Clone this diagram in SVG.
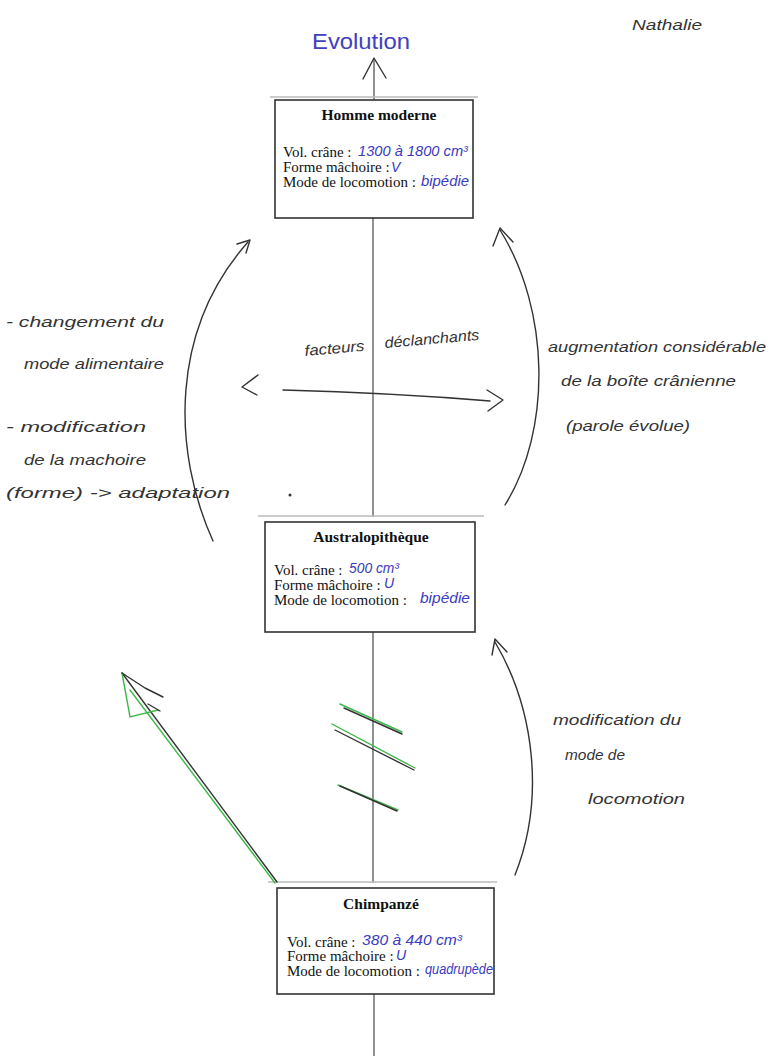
<svg xmlns="http://www.w3.org/2000/svg" width="769" height="1060" viewBox="0 0 769 1060">
<defs>
<style>
.box{fill:#fff;stroke:#333;stroke-width:1.6}
.scan{stroke:#bbb;stroke-width:1.5;fill:none}
.title{font-family:"Liberation Serif",serif;font-weight:bold;font-size:15.5px;fill:#111;text-anchor:middle}
.lbl{font-family:"Liberation Serif",serif;font-size:15px;fill:#111}
.val{font-family:"Liberation Sans",sans-serif;font-style:italic;font-size:14px;fill:#3a3ac0}
.hw{font-family:"Liberation Sans",sans-serif;font-style:italic;font-size:15px;fill:#333}
.ink{stroke:#333;stroke-width:1.4;fill:none;stroke-linecap:round;stroke-linejoin:round}
.axis{stroke:#555;stroke-width:1.3;fill:none}
.green{stroke:#3cb84a;stroke-width:1.4;fill:none;stroke-linecap:round}
</style>
</defs>
<rect width="769" height="1060" fill="#fff"/>

<g id="title-evolution">
<text x="312" y="49" font-family="Liberation Sans, sans-serif" font-size="22" fill="#4040c0" textLength="98" lengthAdjust="spacingAndGlyphs">Evolution</text>
</g>
<g id="author">
<text x="632" y="30" class="hw" font-size="14" textLength="70" lengthAdjust="spacingAndGlyphs">Nathalie</text>
</g>

<g id="connectors">
<line class="axis" x1="374" y1="60" x2="374" y2="100"/>
<line class="axis" x1="373" y1="218" x2="373" y2="517"/>
<line class="axis" x1="373" y1="632" x2="373" y2="883"/>
<line class="axis" x1="374" y1="994" x2="374" y2="1056"/>
<path class="ink" stroke-width="2" d="M363 79 L374 58 L386 78"/>
<line class="scan" x1="270" y1="97" x2="478" y2="97"/>
<line class="scan" x1="258" y1="516" x2="484" y2="516"/>
<line class="scan" x1="268" y1="882" x2="497" y2="882"/>
<path class="ink" d="M213 541 C172 450 170 330 248 242"/>
<path class="ink" d="M237 244 L250 240 L246 253"/>
<path class="ink" d="M505 505 C552 430 550 310 500 230"/>
<path class="ink" d="M493 246 L500 228 L513 242"/>
<path class="ink" d="M283 390 C360 392 430 396 490 401"/>
<path class="ink" d="M258 375 L242 387 L257 395"/>
<path class="ink" d="M487 390 L503 400 L488 411"/>
<path class="ink" d="M515 875 C545 800 535 710 495 642"/>
<path class="ink" d="M492 655 L495 639 L507 652"/>
<path class="green" d="M275 883 L130 690"/>
<path class="ink" d="M277 882 L122 673"/>
<path class="green" d="M122 673 L130 717 L158 710"/>
<path class="ink" d="M122 673 L145 688 L163 697"/>
<path class="ink" d="M148 704 L160 711"/>
<path class="green" d="M340 704 L402 732"/>
<path class="ink" d="M344 708 L402 734"/>
<path class="green" d="M332 724 L415 768"/>
<path class="ink" d="M335 730 L414 770"/>
<path class="green" d="M338 785 L398 810"/>
<path class="ink" d="M340 786 L397 811"/>
<circle cx="290" cy="495" r="1.5" fill="#333"/>
</g>

<g id="homme-moderne">
<rect class="box" x="275" y="100" width="198" height="118"/>
<text class="title" x="379" y="120">Homme moderne</text>
<text class="lbl" x="283" y="157">Vol. crâne :</text>
<text class="val" x="358" y="156" textLength="110" lengthAdjust="spacingAndGlyphs">1300 à 1800 cm³</text>
<text class="lbl" x="283" y="172">Forme mâchoire :</text>
<text class="val" x="391" y="172" font-size="15">V</text>
<text class="lbl" x="283" y="187">Mode de locomotion :</text>
<text class="val" x="421" y="186" textLength="48" lengthAdjust="spacingAndGlyphs">bipédie</text>
</g>

<g id="australopitheque">
<rect class="box" x="265" y="522" width="210" height="110"/>
<text class="title" x="371" y="542">Australopithèque</text>
<text class="lbl" x="274" y="575">Vol. crâne :</text>
<text class="val" x="349" y="573" textLength="50" lengthAdjust="spacingAndGlyphs">500 cm³</text>
<text class="lbl" x="274" y="590">Forme mâchoire :</text>
<text class="val" x="384" y="588" font-size="16">U</text>
<text class="lbl" x="274" y="605">Mode de locomotion :</text>
<text class="val" x="420" y="603" textLength="50" lengthAdjust="spacingAndGlyphs">bipédie</text>
</g>

<g id="chimpanze">
<rect class="box" x="277" y="888" width="217" height="106"/>
<text class="title" x="381" y="909">Chimpanzé</text>
<text class="lbl" x="287" y="947">Vol. crâne :</text>
<text class="val" x="362" y="945" textLength="100" lengthAdjust="spacingAndGlyphs">380 à 440 cm³</text>
<text class="lbl" x="287" y="961">Forme mâchoire :</text>
<text class="val" x="396" y="960" font-size="16">U</text>
<text class="lbl" x="287" y="976">Mode de locomotion :</text>
<text class="val" x="425" y="974" textLength="68" lengthAdjust="spacingAndGlyphs">quadrupède</text>
</g>

<g id="facteurs">
<text class="hw" x="305" y="356" font-size="17" transform="rotate(-5 305 356)" textLength="60" lengthAdjust="spacingAndGlyphs">facteurs</text>
<text class="hw" x="385" y="348" font-size="17" transform="rotate(-5 385 348)" textLength="95" lengthAdjust="spacingAndGlyphs">déclanchants</text>
</g>

<g id="left-notes">
<text class="hw" x="6" y="327" textLength="158" lengthAdjust="spacingAndGlyphs">- changement du</text>
<text class="hw" x="24" y="369" textLength="140" lengthAdjust="spacingAndGlyphs">mode alimentaire</text>
<text class="hw" x="6" y="432" textLength="140" lengthAdjust="spacingAndGlyphs">- modification</text>
<text class="hw" x="24" y="465" textLength="122" lengthAdjust="spacingAndGlyphs">de la machoire</text>
<text class="hw" x="6" y="498" textLength="224" lengthAdjust="spacingAndGlyphs">(forme) -&gt; adaptation</text>
</g>

<g id="right-notes">
<text class="hw" x="548" y="352" textLength="218" lengthAdjust="spacingAndGlyphs">augmentation considérable</text>
<text class="hw" x="561" y="386" textLength="175" lengthAdjust="spacingAndGlyphs">de la boîte crânienne</text>
<text class="hw" x="566" y="431" textLength="124" lengthAdjust="spacingAndGlyphs">(parole évolue)</text>
</g>

<g id="locomotion-notes">
<text class="hw" x="553" y="725" textLength="128" lengthAdjust="spacingAndGlyphs">modification du</text>
<text class="hw" x="565" y="760" textLength="60" lengthAdjust="spacingAndGlyphs">mode de</text>
<text class="hw" x="588" y="804" textLength="97" lengthAdjust="spacingAndGlyphs">locomotion</text>
</g>
</svg>
